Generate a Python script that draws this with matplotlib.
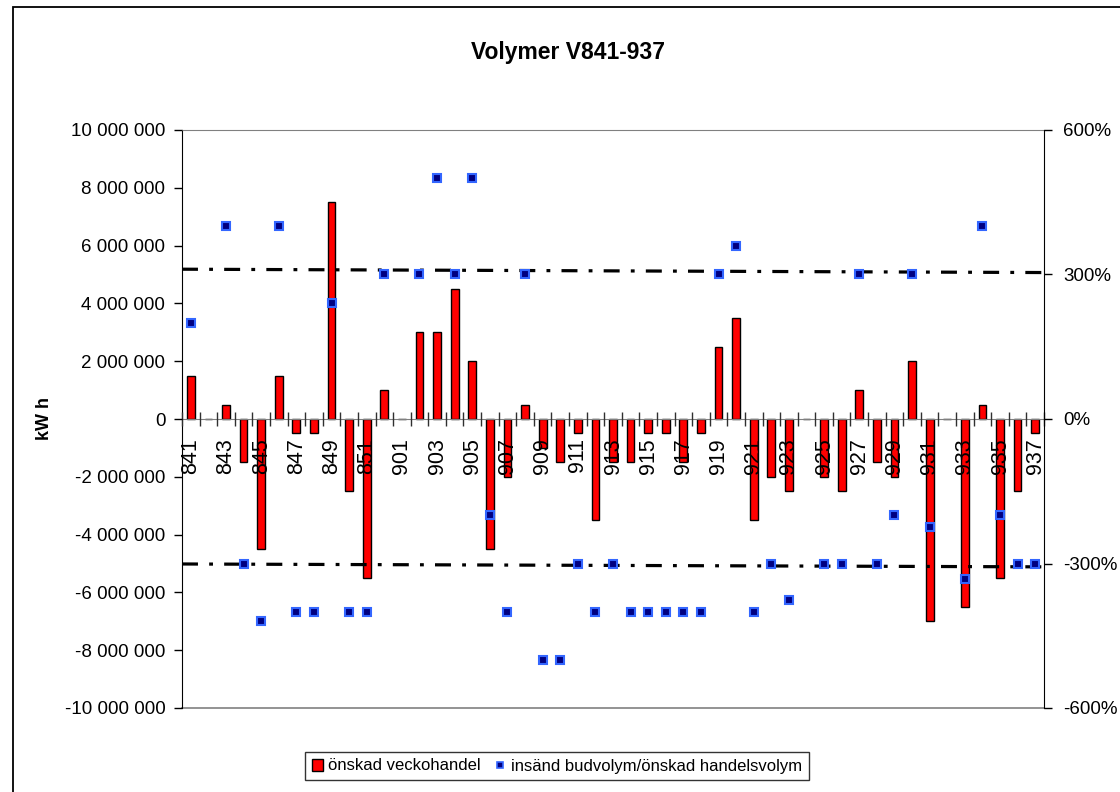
import matplotlib
matplotlib.use('Agg')
from matplotlib import pyplot as plt
from matplotlib.patches import Rectangle, Patch
from matplotlib.lines import Line2D
from matplotlib.ticker import FuncFormatter
import numpy as np

plt.rcParams['font.family'] = ['Liberation Sans', 'DejaVu Sans']

weeks = ['841', '842', '843', '844', '845', '846', '847', '848', '849', '850', '851', '852',
         '901', '902', '903', '904', '905', '906', '907', '908', '909', '910', '911', '912',
         '913', '914', '915', '916', '917', '918', '919', '920', '921', '922', '923', '924',
         '925', '926', '927', '928', '929', '930', '931', '932', '933', '934', '935', '936', '937']

# önskad veckohandel, kWh
onskad = [1.5e6, 0, 0.5e6, -1.5e6, -4.5e6, 1.5e6, -0.5e6, -0.5e6, 7.5e6, -2.5e6, -5.5e6, 1.0e6,
          0, 3.0e6, 3.0e6, 4.5e6, 2.0e6, -4.5e6, -2.0e6, 0.5e6, -1.0e6, -1.5e6, -0.5e6, -3.5e6,
          -1.5e6, -1.5e6, -0.5e6, -0.5e6, -1.5e6, -0.5e6, 2.5e6, 3.5e6, -3.5e6, -2.0e6, -2.5e6, 0,
          -2.0e6, -2.5e6, 1.0e6, -1.5e6, -2.0e6, 2.0e6, -7.0e6, 0, -6.5e6, 0.5e6, -5.5e6, -2.5e6, -0.5e6]

# insänd budvolym/önskad handelsvolym, %
kvot = [200, None, 400, -300, -420, 400, -400, -400, 240, -400, -400, 300,
        None, 300, 500, 300, 500, -200, -400, 300, -500, -500, -300, -400,
        -300, -400, -400, -400, -400, -400, 300, 360, -400, -300, -375, None,
        -300, -300, 300, -300, -200, 300, -225, None, -333, 400, -200, -300, -300]

# dash-dot limit lines (% at start and end)
upper_line = [311, 304]
lower_line = [-301, -307]

x = np.arange(len(weeks))
kv = np.array([np.nan if v is None else v for v in kvot], dtype=float)

fig = plt.figure(figsize=(11.2, 7.92), dpi=100)
ax = fig.add_axes([182/1120, 1 - 708/792, (1044-182)/1120, (708-130)/792])

ax.bar(x, onskad, width=0.44, color='#ff0000', edgecolor='black', linewidth=1, zorder=2)
ax.set_axisbelow(False)
ax.set_xlim(-0.5, len(weeks) - 0.5)
ax.set_ylim(-1e7, 1e7)
ax.set_yticks(np.arange(-1e7, 1.01e7, 2e6))
ax.yaxis.set_major_formatter(FuncFormatter(lambda v, p: '{:,.0f}'.format(v).replace(',', ' ')))
ax.tick_params(axis='y', direction='out', length=6, width=1, labelsize=13.5, pad=6)

# category axis at zero
ax.spines['bottom'].set_position(('data', 0))
ax.spines['bottom'].set_color('#808080')
ax.spines['top'].set_color('#808080')
ax.spines['left'].set_color('black')
ax.spines['right'].set_visible(False)
ax.axhline(-1e7, color='#808080', lw=1.2, clip_on=False, zorder=1)
ax.set_xticks(np.arange(-0.5, len(weeks), 1))
ax.set_xticklabels([])
ax.tick_params(axis='x', which='major', direction='inout', length=10, width=1, color='#303030')
ax.set_xticks(x[::2], minor=True)
ax.set_xticklabels(weeks[::2], minor=True, rotation=90)
ax.tick_params(axis='x', which='minor', length=0, labelsize=15.5, pad=14)

ax.set_ylabel('kW h', fontsize=13, fontweight='bold')
ax.yaxis.set_label_coords(-0.15, 0.5)

ax2 = ax.twinx()
ax2.set_ylim(-600, 600)
ax2.set_yticks([-600, -300, 0, 300, 600])
ax2.set_yticklabels(['-600%', '-300%', '0%', '300%', '600%'])
ax2.tick_params(axis='y', direction='out', length=6, width=1, labelsize=13.5, pad=8)
for s in ['top', 'bottom', 'left']:
    ax2.spines[s].set_visible(False)
ax2.spines['right'].set_color('black')

xl = [-0.5, len(weeks) - 0.15]
ax2.plot(xl, upper_line, color='black', lw=2.3, linestyle=(0, (5, 3.5, 1.2, 3.5)), clip_on=False, zorder=3)
ax2.plot(xl, lower_line, color='black', lw=2.3, linestyle=(0, (5, 3.5, 1.2, 3.5)), clip_on=False, zorder=3)
ax2.plot(x, kv, linestyle='none', marker='s', markersize=6, markerfacecolor='#000080',
         markeredgecolor='#3366ff', markeredgewidth=1.5, zorder=4)

fig.text(568/1120, 1 - 52/792, 'Volymer V841-937', ha='center', va='center', fontsize=16.5, fontweight='bold')

handles = [Patch(facecolor='#ff0000', edgecolor='black', linewidth=1),
           Line2D([], [], linestyle='none', marker='s', markersize=5, markerfacecolor='#000080',
                  markeredgecolor='#3366ff', markeredgewidth=1.2)]
leg = fig.legend(handles, ['önskad veckohandel', 'insänd budvolym/önskad handelsvolym'],
                 loc='center', bbox_to_anchor=(557/1120, 1 - 766/792), ncol=2, fontsize=12,
                 frameon=True, fancybox=False, edgecolor='black', handlelength=0.7,
                 handletextpad=0.3, columnspacing=0.8, borderpad=0.4)
leg.get_frame().set_linewidth(1)

fig.add_artist(Rectangle((13/1120, -0.1), 1.2, 1.1 - 7/792, transform=fig.transFigure,
                         fill=False, edgecolor='black', linewidth=1.3))

plt.savefig('out.png', dpi=100)
